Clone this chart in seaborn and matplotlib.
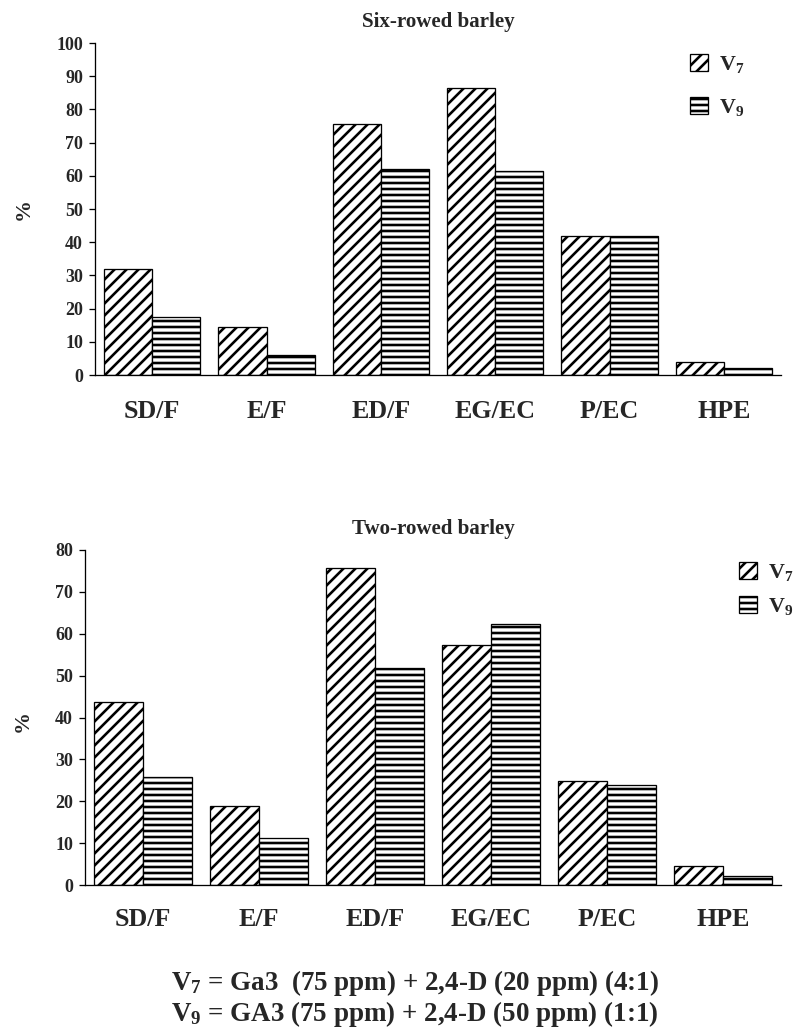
import pandas as pd
import seaborn as sns
import matplotlib.pyplot as plt
from matplotlib.patches import Patch
from matplotlib.ticker import FixedLocator

# Data (%)
categories = ["SD/F", "E/F", "ED/F", "EG/EC", "P/EC", "HPE"]
series = ["V7", "V9"]
six_v7 = [32.0, 14.5, 75.5, 86.5, 42.0, 4.0]
six_v9 = [17.5, 6.0, 62.0, 61.5, 42.0, 2.0]
two_v7 = [43.7, 18.9, 75.6, 57.2, 24.9, 4.6]
two_v9 = [25.9, 11.3, 51.9, 62.3, 23.8, 2.2]
legend_labels = ["V$_7$", "V$_9$"]
hatches = ["//", "--"]

sns.set_style("white")
plt.rcParams["font.family"] = ["Liberation Serif", "DejaVu Serif"]
plt.rcParams["font.weight"] = "bold"
plt.rcParams["mathtext.fontset"] = "custom"
plt.rcParams["mathtext.rm"] = "Liberation Serif:bold"
plt.rcParams["mathtext.it"] = "Liberation Serif:bold"
plt.rcParams["mathtext.bf"] = "Liberation Serif:bold"
plt.rcParams["hatch.linewidth"] = 2.6
plt.rcParams["hatch.color"] = "black"

W, H = 802, 1032
fig = plt.figure(figsize=(W / 72, H / 72), dpi=72)


def frac_box(left, top, right, bottom):
    return [left / W, 1 - bottom / H, (right - left) / W, (bottom - top) / H]


def make_panel(box, v7, v9, title, ymax, label_xy, leg_xy, leg_space, xpad):
    ax = fig.add_axes(box)
    df = pd.DataFrame({
        "cat": categories * 2,
        "series": [series[0]] * len(categories) + [series[1]] * len(categories),
        "value": v7 + v9,
    })
    sns.barplot(data=df, x="cat", y="value", hue="series", hue_order=series,
                palette=["white", "white"], saturation=1, width=0.84,
                edgecolor="black", linewidth=1.3, legend=False, ax=ax,
                errorbar=None)
    for cont, h in zip(ax.containers, hatches):
        for bar in cont:
            bar.set_hatch(h)

    ax.set_xlim(-0.5, len(categories) - 0.5)
    ax.set_ylim(0, ymax)
    ax.set_yticks(range(0, ymax + 1, 10))
    ax.set_xlabel("")
    ax.set_ylabel("%", fontsize=22, fontweight="bold")
    ax.yaxis.set_label_coords(*label_xy)
    ax.set_title(title, fontsize=21, fontweight="bold", pad=16)

    for s in ["top", "right"]:
        ax.spines[s].set_visible(False)
    for s in ["left", "bottom"]:
        ax.spines[s].set_linewidth(1.3)
        ax.spines[s].set_color("black")

    ax.xaxis.set_minor_locator(FixedLocator([i - 0.5 for i in range(len(categories) + 1)]))
    ax.tick_params(axis="x", which="major", length=0, pad=xpad, labelsize=26)
    ax.tick_params(axis="x", which="minor", length=9, width=1.3, direction="out", color="black")
    ax.tick_params(axis="y", length=6, width=1.3, direction="out", color="black",
                   labelsize=18, pad=6, left=True)
    for t in ax.get_xticklabels() + ax.get_yticklabels():
        t.set_fontweight("bold")

    handles = [Patch(facecolor="white", edgecolor="black", hatch=h, linewidth=1.3)
               for h in hatches]
    ax.legend(handles, legend_labels, loc="upper left", frameon=False,
              bbox_to_anchor=(leg_xy[0] / W, 1 - leg_xy[1] / H),
              bbox_transform=fig.transFigure, fontsize=22, handlelength=0.8,
              handleheight=0.8, handletextpad=0.5, labelspacing=leg_space,
              borderpad=0, borderaxespad=0)
    return ax


make_panel(frac_box(95, 43, 781, 375), six_v7, six_v9, "Six-rowed barley", 100,
           (-0.09, 0.5), (690, 54), 1.0, 25)
make_panel(frac_box(85, 550, 781, 885), two_v7, two_v9, "Two-rowed barley", 80,
           (-0.075, 0.49), (739, 562), 0.6, 23)

fig.text(415 / W, 1 - 983 / H, "V$_7$ = Ga3  (75 ppm) + 2,4-D (20 ppm) (4:1)",
         ha="center", va="center", fontsize=27, fontweight="bold")
fig.text(415 / W, 1 - 1014 / H, "V$_9$ = GA3 (75 ppm) + 2,4-D (50 ppm) (1:1)",
         ha="center", va="center", fontsize=27, fontweight="bold")

fig.savefig("out.png", dpi=72, facecolor="white")
